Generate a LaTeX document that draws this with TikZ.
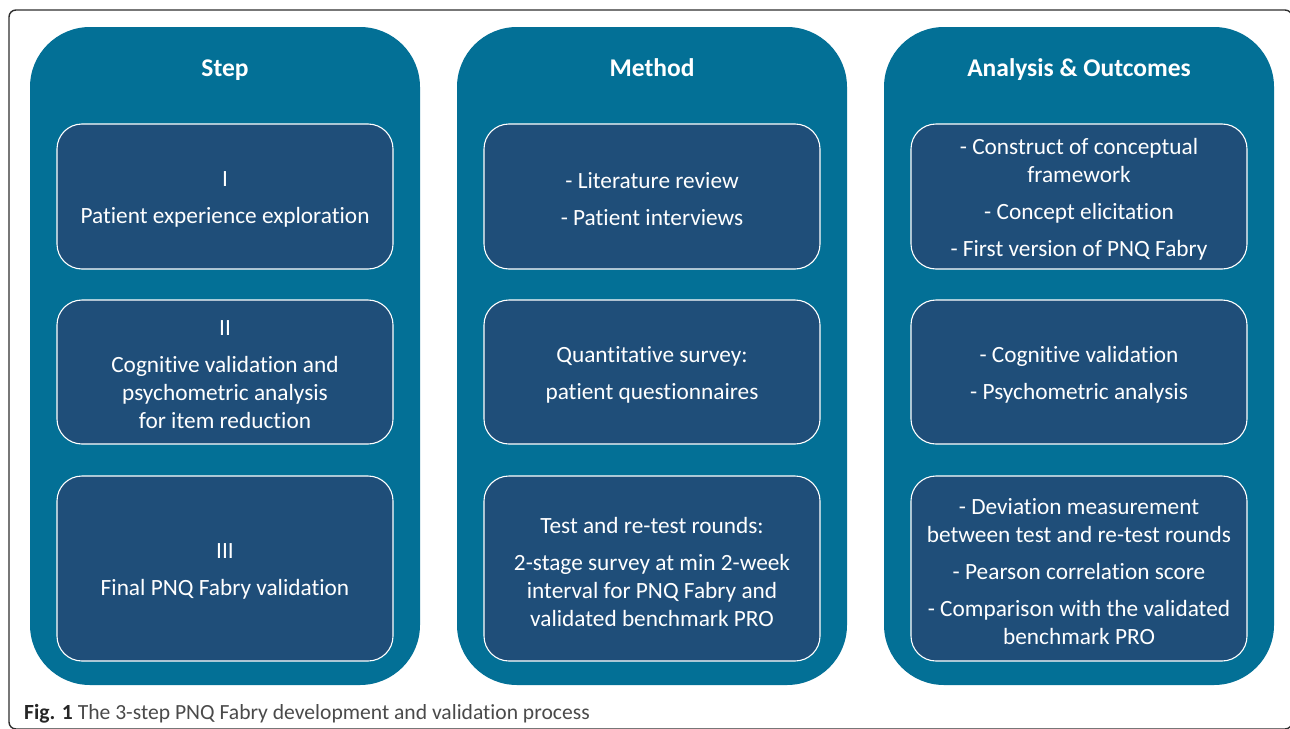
\documentclass[tikz,border=0pt]{standalone}
\usepackage{fontspec}
\setmainfont{Carlito}[Ligatures={NoCommon,NoRare,NoDiscretionary},Contextuals=NoAlternate]
\definecolor{teal}{HTML}{037096}
\definecolor{navy}{HTML}{1F4E79}
\definecolor{framegray}{HTML}{2E2E2E}
\definecolor{capgray}{HTML}{4A4A4A}
\begin{document}
\begin{tikzpicture}[x=1pt,y=-1pt,
  column/.style={fill=teal, draw=none, rounded corners=60pt, minimum width=390pt, minimum height=658pt, inner sep=0pt},
  header/.style={text=white, font=\fontsize{25.5}{30}\selectfont\bfseries, inner sep=0pt, anchor=base},
  cell/.style={fill=navy, draw=white, line width=1.1pt, rounded corners=25pt, minimum width=336pt, inner sep=0pt},
  celltext/.style={text=white, align=center, inner sep=0pt, font=\fontsize{23.3}{28}\selectfont},
]
\useasboundingbox (0,0) rectangle (1290,728);
\node[draw=framegray, line width=1.4pt, rounded corners=7pt, minimum width=1283pt, minimum height=719pt, inner sep=0pt] (frame) at (650.5,369.5) {};

\node[column] (col1) at (225,356) {};
\node[column] (col2) at (652,356) {};
\node[column] (col3) at (1079,356) {};

\node[header] (h1) at (225,76.5) {Step};
\node[header] (h2) at (652,76.5) {Method};
\node[header] (h3) at (1079,76.5) {Analysis \& Outcomes};

% boxes
\node[cell, minimum height=145pt] (s1) at (225,196.5) {};
\node[cell, minimum height=144pt] (s2) at (225,372) {};
\node[cell, minimum height=185pt] (s3) at (225,568.5) {};
\node[cell, minimum height=145pt] (m1) at (652,196.5) {};
\node[cell, minimum height=144pt] (m2) at (652,372) {};
\node[cell, minimum height=185pt] (m3) at (652,568.5) {};
\node[cell, minimum height=145pt] (a1) at (1079,196.5) {};
\node[cell, minimum height=144pt] (a2) at (1079,372) {};
\node[cell, minimum height=185pt] (a3) at (1079,568.5) {};

% texts
\node[celltext] (s1t) at ([yshift=-3pt]s1.center) {I\\[9pt]Patient experience exploration};
\node[celltext] (s2t) at ([yshift=-3pt]s2.center) {II\\[9pt]Cognitive validation and\\psychometric analysis\\for item reduction};
\node[celltext] (s3t) at ([yshift=-3pt]s3.center) {III\\[9pt]Final PNQ Fabry validation};
\node[celltext] (m1t) at ([yshift=-3pt]m1.center) {- Literature review\\[9pt]- Patient interviews};
\node[celltext] (m2t) at ([yshift=-3pt]m2.center) {Quantitative survey:\\[9pt]patient questionnaires};
\node[celltext] (m3t) at ([yshift=-3pt]m3.center) {Test and re-test rounds:\\[9pt]2-stage survey at min 2-week\\interval for PNQ Fabry and\\validated benchmark PRO};
\node[celltext] (a1t) at ([yshift=-3pt]a1.center) {- Construct of conceptual\\framework\\[9pt]- Concept elicitation\\[9pt]- First version of PNQ Fabry};
\node[celltext] (a2t) at ([yshift=-3pt]a2.center) {- Cognitive validation\\[9pt]- Psychometric analysis};
\node[celltext] (a3t) at ([yshift=-3pt]a3.center) {- Deviation measurement\\between test and re-test rounds\\[9pt]- Pearson correlation score\\[9pt]- Comparison with the validated\\benchmark PRO};

\node[anchor=base west, inner sep=0pt, font=\fontsize{21.6}{25}\selectfont, text=capgray] (cap) at (24,719)
  {{\bfseries\color{black!85}Fig. 1} The 3-step PNQ Fabry development and validation process};
\end{tikzpicture}
\end{document}
